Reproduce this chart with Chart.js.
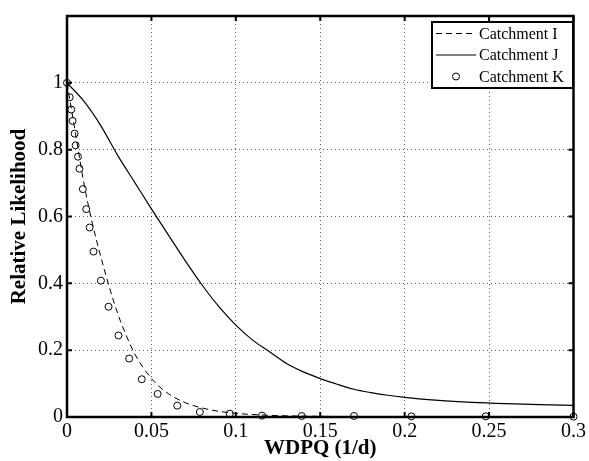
<!DOCTYPE html>
<html>
<head>
<meta charset="utf-8">
<script src="https://cdn.jsdelivr.net/npm/chart.js@4"></script>
<style>
  html, body { margin: 0; padding: 0; background: #fff; }
  #wrap { width: 589px; height: 461px; }
</style>
</head>
<body>
<div id="wrap"><canvas id="likeChart" width="589" height="461"></canvas></div>
<script>
// Catchment I (dashed line)
const xI = [0, 0.005, 0.01, 0.015, 0.02, 0.025, 0.03, 0.035, 0.04, 0.05, 0.06, 0.07, 0.08, 0.09, 0.1, 0.12, 0.15, 0.2, 0.25, 0.3];
const yI = [1, 0.85, 0.70, 0.58, 0.48, 0.39, 0.31, 0.245, 0.19, 0.115, 0.07, 0.043, 0.027, 0.017, 0.011, 0.005, 0.002, 0.001, 0.001, 0.001];

// Catchment J (solid line)
const xJ = [0, 0.01, 0.02, 0.03, 0.04, 0.05, 0.06, 0.07, 0.08, 0.09, 0.1, 0.11, 0.12, 0.13, 0.14, 0.15, 0.16, 0.17, 0.18, 0.19, 0.2, 0.22, 0.24, 0.26, 0.28, 0.3];
const yJ = [1, 0.945, 0.872, 0.783, 0.703, 0.623, 0.545, 0.468, 0.395, 0.33, 0.275, 0.23, 0.195, 0.16, 0.135, 0.115, 0.098, 0.083, 0.073, 0.065, 0.059, 0.05, 0.044, 0.04, 0.037, 0.035];

// Catchment K (circles)
const xK = [0, 0.0016, 0.0025, 0.0033, 0.0045, 0.0051, 0.0065, 0.0074, 0.0094, 0.0114, 0.0134, 0.0157, 0.0201, 0.0246, 0.0305, 0.0368, 0.0443, 0.0537, 0.0653, 0.0787, 0.0964, 0.1155, 0.139, 0.17, 0.204, 0.248, 0.3];
const yK = [1, 0.957, 0.92, 0.886, 0.848, 0.813, 0.779, 0.743, 0.682, 0.622, 0.567, 0.495, 0.408, 0.330, 0.244, 0.175, 0.113, 0.069, 0.034, 0.015, 0.010, 0.004, 0.003, 0.003, 0.002, 0.002, 0.001];

const xTicks = [0, 0.05, 0.1, 0.15, 0.2, 0.25, 0.3];
const yTicks = [0, 0.2, 0.4, 0.6, 0.8, 1];

const serif = '"Liberation Serif", "Times New Roman", serif';

function pairs(xs, ys) {
    return xs.map((x, i) => ({ x: x, y: ys[i] }));
}

// box round the plot, inward ticks and the legend, the way matlab draws them
const framePlugin = {
    id: 'frame',
    afterDraw(chart) {
        const ctx = chart.ctx;
        const a = chart.chartArea;
        const xs = chart.scales.x, ys = chart.scales.y;
        ctx.save();
        ctx.strokeStyle = '#000';
        ctx.lineWidth = 2;
        const tl = 5;
        ctx.beginPath();
        xTicks.forEach(v => {
            const p = xs.getPixelForValue(v);
            ctx.moveTo(p, a.bottom); ctx.lineTo(p, a.bottom - tl);
            ctx.moveTo(p, a.top); ctx.lineTo(p, a.top + tl);
        });
        yTicks.forEach(v => {
            const p = ys.getPixelForValue(v);
            ctx.moveTo(a.left, p); ctx.lineTo(a.left + tl, p);
            ctx.moveTo(a.right, p); ctx.lineTo(a.right - tl, p);
        });
        ctx.stroke();
        ctx.lineWidth = 2.5;
        ctx.strokeRect(a.left, a.top, a.right - a.left, a.bottom - a.top);

        // legend
        const lx = 432, ly = 22, lw = 141, lh = 66;
        ctx.fillStyle = '#fff';
        ctx.fillRect(lx, ly, lw, lh);
        ctx.lineWidth = 2;
        ctx.strokeRect(lx, ly, lw, lh);
        ctx.font = '16px ' + serif;
        ctx.textBaseline = 'middle';
        ctx.fillStyle = '#000';
        const rows = [33.5, 55, 76.5];
        chart.data.datasets.forEach((ds, i) => {
            const y = rows[i];
            ctx.lineWidth = 1;
            if (ds.showLine !== false) {
                ctx.setLineDash(ds.borderDash || []);
                ctx.beginPath();
                ctx.moveTo(436, y); ctx.lineTo(476, y);
                ctx.stroke();
                ctx.setLineDash([]);
            } else {
                ctx.beginPath();
                ctx.arc(456, y, 3.5, 0, Math.PI * 2);
                ctx.stroke();
            }
            ctx.fillText(ds.label, 479, y + 1);
        });
        ctx.restore();
    }
};

const chart = new Chart(document.getElementById('likeChart').getContext('2d'), {
    type: 'line',
    data: {
        datasets: [
            {
                label: 'Catchment I',
                data: pairs(xI, yI),
                borderColor: '#000',
                borderWidth: 1,
                borderDash: [6, 4],
                pointRadius: 0,
                cubicInterpolationMode: 'monotone',
                fill: false,
            },
            {
                label: 'Catchment J',
                data: pairs(xJ, yJ),
                borderColor: '#000',
                borderWidth: 1.2,
                pointRadius: 0,
                cubicInterpolationMode: 'monotone',
                fill: false,
            },
            {
                label: 'Catchment K',
                data: pairs(xK, yK),
                showLine: false,
                borderColor: '#000',
                backgroundColor: 'rgba(0,0,0,0)',
                borderWidth: 1,
                pointRadius: 3.5,
                pointStyle: 'circle',
                clip: false,
            },
        ],
    },
    options: {
        responsive: false,
        animation: false,
        layout: { padding: { left: 0, top: 14, right: 13, bottom: 0 } },
        plugins: {
            legend: { display: false },
            tooltip: { enabled: false },
        },
        scales: {
            x: {
                type: 'linear',
                min: 0,
                max: 0.3,
                afterFit: s => { s.height = 44; },
                afterBuildTicks: s => { s.ticks = xTicks.map(v => ({ value: v })); },
                ticks: {
                    color: '#000',
                    font: { family: serif, size: 20 },
                    padding: 3,
                    maxRotation: 0,
                    callback: v => String(v),
                },
                grid: {
                    color: 'rgba(0,0,0,0.65)',
                    lineWidth: 1,
                    drawTicks: false,
                },
                border: { display: false, dash: [1, 3] },
                title: {
                    display: true,
                    text: 'WDPQ (1/d)',
                    color: '#000',
                    font: { family: serif, size: 21, weight: 'bold' },
                    padding: { top: 0, bottom: 0 },
                },
            },
            y: {
                min: 0,
                max: 1.2,
                afterFit: s => { s.width = 67; },
                afterBuildTicks: s => { s.ticks = yTicks.map(v => ({ value: v })); },
                ticks: {
                    color: '#000',
                    font: { family: serif, size: 20 },
                    padding: 4,
                    callback: v => String(v),
                },
                grid: {
                    color: 'rgba(0,0,0,0.65)',
                    lineWidth: 1,
                    drawTicks: false,
                },
                border: { display: false, dash: [1, 3] },
                title: {
                    display: true,
                    text: 'Relative Likelihood',
                    color: '#000',
                    font: { family: serif, size: 21, weight: 'bold' },
                    padding: { top: 7, bottom: 0 },
                },
            },
        },
    },
    plugins: [framePlugin],
});
</script>
</body>
</html>
